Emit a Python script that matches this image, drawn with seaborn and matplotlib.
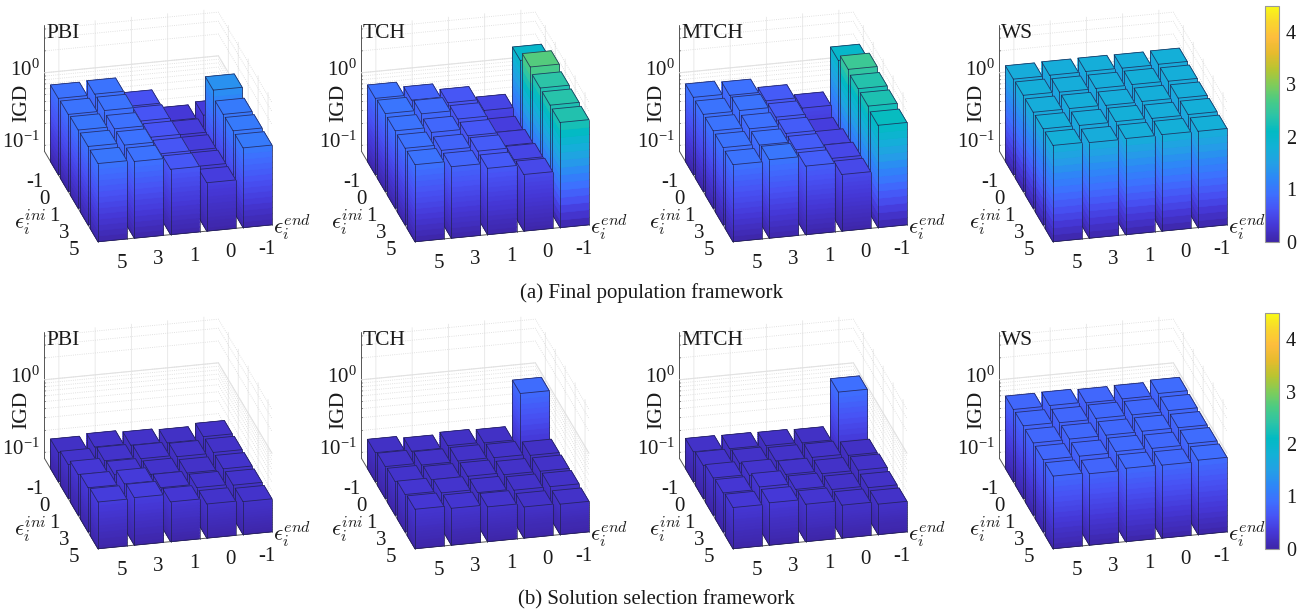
import numpy as np
import matplotlib
matplotlib.use('Agg')
import matplotlib.pyplot as plt
import seaborn as sns
from mpl_toolkits.mplot3d import proj3d

# Data: rows are eps_ini (-1, 0, 1, 3, 5), columns are eps_end (5, 3, 1, 0, -1)
ini_labels = ['-1', '0', '1', '3', '5']
end_labels = ['5', '3', '1', '0', '-1']
panel_names = ['PBI', 'TCH', 'MTCH', 'WS']
captions = ['(a) Final population framework', '(b) Solution selection framework']

pbi_a = [[.934, .955, .585, .325, .35],
         [.955, .966, .62, .355, 1.32],
         [.99, .92, .63, .365, 1.04],
         [1.0, .934, .635, .38, 1.05],
         [.99, .945, .66, .385, 1.04]]
tch_a = [[.934, .79, .65, .455, 1.99],
         [.98, .87, .66, .385, 2.75],
         [.966, .82, .66, .43, 2.4],
         [.945, .79, .69, .47, 2.37],
         [.955, .80, .68, .50, 2.33]]
mtch_a = [[.965, .92, .69, .49, 1.99],
          [.955, .966, .70, .37, 2.55],
          [.965, .92, .71, .44, 2.35],
          [.965, .934, .72, .49, 2.3],
          [.955, 1.0, .73, .50, 2.13]]
ws_a = [[1.72, 1.74, 1.75, 1.74, 1.76],
        [1.75, 1.73, 1.74, 1.76, 1.75],
        [1.74, 1.75, 1.73, 1.75, 1.74],
        [1.75, 1.74, 1.76, 1.74, 1.76],
        [1.76, 1.72, 1.75, 1.77, 1.76]]
pbi_b = [[.21, .223, .211, .203, .221],
         [.242, .245, .234, .223, .228],
         [.30, .267, .242, .226, .231],
         [.337, .34, .27, .242, .234],
         [.365, .375, .293, .245, .236]]
tch_b = [[.208, .195, .208, .203, .87],
         [.228, .214, .218, .216, .208],
         [.24, .228, .228, .214, .214],
         [.272, .256, .231, .223, .223],
         [.29, .267, .25, .223, .218]]
mtch_b = [[.214, .211, .208, .203, .91],
          [.236, .226, .218, .218, .208],
          [.27, .262, .242, .221, .221],
          [.286, .309, .256, .228, .216],
          [.306, .318, .272, .236, .218]]
ws_b = [[.82, .83, .81, .82, .87],
        [.83, .82, .84, .84, .86],
        [.82, .83, .84, .85, .85],
        [.82, .82, .85, .84, .87],
        [.83, .80, .85, .84, .88]]
rows_data = [[pbi_a, tch_a, mtch_a, ws_a], [pbi_b, tch_b, mtch_b, ws_b]]

parula_colors = [(.2422, .1504, .6603), (.2706, .2147, .8364), (.2810, .3228, .9579),
                 (.2440, .4358, .9988), (.1786, .5289, .9682), (.1380, .6276, .8973),
                 (.0689, .6948, .8394), (.0067, .7312, .7660), (.1717, .7670, .6554),
                 (.2906, .7973, .5188), (.5044, .7993, .3480), (.7242, .7698, .1910),
                 (.9035, .7330, .1774), (.9956, .7434, .2371), (.9786, .8386, .1766),
                 (.9769, .9839, .0805)]

W, H = 1303, 613
VMAX = 4.5
Z_LOW, Z_HIGH = np.log10(0.083), np.log10(VMAX)
N_SEG = 14
TXT = '#1a1a1a'

sns.set_theme(style='white')
plt.rcParams['font.family'] = 'Liberation Serif'
plt.rcParams['mathtext.fontset'] = 'cm'
plt.rcParams['mathtext.default'] = 'it'
parula = sns.blend_palette(parula_colors, n_colors=256, as_cmap=True)

fig = plt.figure(figsize=(W / 100, H / 100), dpi=100)


def px_text(x, y, s, **kw):
    return fig.text(x / W, 1 - y / H, s, color=TXT, **kw)


def to_px(ax, x, y, z):
    xp, yp, _ = proj3d.proj_transform(x, y, z, ax.get_proj())
    return ax.transData.transform((xp, yp))


def data_text(ax, x, y, z, s, dx=0, dy=0, **kw):
    # label placed from data coordinates, dx and dy in pixels
    p = to_px(ax, x, y, z)
    return fig.text((p[0] + dx) / W, (p[1] + dy) / H, s, color=TXT, **kw)


def place_axes(ax, left_px, right_px, base_px):
    # fit the axes so the front floor edge falls on the wanted pixels
    s0 = 400
    ax.set_position([0, 0, s0 / W, s0 / H])
    ax.apply_aspect()
    a = to_px(ax, -0.4, -0.4, Z_LOW)
    b = to_px(ax, 4.4, -0.4, Z_LOW)
    k = (right_px - left_px) / (b[0] - a[0])
    ax.set_position([(left_px - k * a[0]) / W, (H - base_px - k * a[1]) / H, k * s0 / W, k * s0 / H])
    ax.apply_aspect()


def draw_bars(ax, values):
    order = 0
    for i in range(5):  # back row first
        y = 4 - i - 0.4
        for c in range(4, -1, -1):
            x = c - 0.4
            v = values[i][c]
            top = np.log10(v)
            h = (top - Z_LOW) / N_SEG
            for s in range(N_SEG):
                col = parula((s + 0.5) / N_SEG * v / VMAX)
                cols = [col] * 6
                if s == N_SEG - 1:
                    cols[1] = parula(v / VMAX)
                ax.bar3d(x, y, Z_LOW + s * h, 0.8, 0.8, h, color=cols, shade=False,
                         edgecolor=col, linewidth=0.3, zorder=order)
                order += 1
            # visible edges of the box
            ec = '#20204a'
            xs = [x, x + 0.8, x + 0.8, x, x]
            ys = [y, y, y + 0.8, y + 0.8, y]
            ax.plot(xs, ys, [top] * 5, color=ec, lw=0.6, alpha=0.8, zorder=order)
            ax.plot([x, x + 0.8], [y, y], [Z_LOW, Z_LOW], color=ec, lw=0.6, alpha=0.8, zorder=order)
            ax.plot([x, x], [y, y + 0.8], [Z_LOW, Z_LOW], color=ec, lw=0.6, alpha=0.8, zorder=order)
            for xv, yv in [(x, y), (x + 0.8, y), (x, y + 0.8)]:
                ax.plot([xv, xv], [yv, yv], [Z_LOW, top], color=ec, lw=0.6, alpha=0.8, zorder=order)
            order += 1


z_ticks = [np.log10(t) for t in [.1, .2, .3, .4, .5, .6, .7, .8, .9, 1, 2, 3, 4]]
lefts = [98, 415, 733, 1053]
bases = [241.7, 548.7]

for row in range(2):
    for col in range(4):
        ax = fig.add_subplot(projection='3d', computed_zorder=False, proj_type='ortho')
        ax.view_init(elev=23.9, azim=-103.5)
        ax.set_box_aspect((180, 231, 138.5))
        ax.set_xlim(-0.4, 4.4)
        ax.set_ylim(-0.4, 5.0)
        ax.set_zlim(Z_LOW, Z_HIGH)
        ax.set_facecolor('none')
        place_axes(ax, lefts[col], lefts[col] + 174, bases[row])

        ax.set_xticks(range(5))
        ax.set_yticks(range(5))
        ax.set_zticks(z_ticks)
        ax.set_xticklabels([])
        ax.set_yticklabels([])
        ax.set_zticklabels([])
        for axis in [ax.xaxis, ax.yaxis, ax.zaxis]:
            axis.set_pane_color((1, 1, 1, 0))
            axis.pane.set_edgecolor((1, 1, 1, 0))
            axis.line.set_color('#555555')
            axis.line.set_linewidth(0.7)
            axis._axinfo['grid'].update(color='#e6e6e6', linewidth=0.6)
            axis._axinfo['tick'].update(inward_factor=0, outward_factor=0.08, linewidth={True: 0.6, False: 0.6})
        ax.zaxis._axinfo['grid'].update(color='#d8d8d8', linestyle=':', linewidth=0.6)
        ax.tick_params(colors='#555555')

        # solid line at the decade on both walls
        ax.plot([-0.4, 4.4, 4.4], [5.0, 5.0, -0.4], [0, 0, 0], color='#e2e2e2', lw=0.8, zorder=-1)

        draw_bars(ax, rows_data[row][col])

        # tick labels
        for c, lab in enumerate(end_labels):
            data_text(ax, c, -1.72, Z_LOW, lab, dx=-3.5, dy=-1, fontsize=15, ha='center', va='center')
        for i, lab in enumerate(ini_labels):
            data_text(ax, -0.95, 4 - i, Z_LOW - 0.18, lab, fontsize=15, ha='center', va='center')
        data_text(ax, -0.4, 5.0, 0, r'$\mathregular{10^{0}}$', dx=-5, dy=3, fontsize=15, ha='right', va='center')
        data_text(ax, -0.4, 5.0, -1, r'$\mathregular{10^{-1}}$', dx=-5, dy=3, fontsize=15, ha='right', va='center')

        x0, y0 = lefts[col], bases[row]
        px_text(x0 - 52, y0 - 208.7, panel_names[col], fontsize=15.5, ha='left', va='center')
        px_text(x0 - 76, y0 - 138.7, 'IGD', fontsize=15.5, rotation=90, ha='center', va='center')
        px_text(x0 - 68, y0 - 20, r'$\epsilon_i^{ini}$', fontsize=16.5, ha='center', va='center')
        px_text(x0 + 194, y0 - 15, r'$\epsilon_i^{end}$', fontsize=16.5, ha='center', va='center')

# colorbars
norm = plt.Normalize(0, VMAX)
for top_px, bot_px in [(5.7, 241.7), (313, 548.7)]:
    cax = fig.add_axes([1265 / W, 1 - bot_px / H, 14 / W, (bot_px - top_px) / H])
    sm = plt.cm.ScalarMappable(norm=norm, cmap=parula)
    cb = fig.colorbar(sm, cax=cax, ticks=[0, 1, 2, 3, 4])
    cb.ax.tick_params(length=0, pad=5, labelsize=14.5, labelcolor=TXT)
    cb.outline.set_edgecolor('#999999')
    cb.outline.set_linewidth(0.8)

px_text(652, 293, captions[0], fontsize=15, ha='center', va='center')
px_text(656, 600, captions[1], fontsize=15, ha='center', va='center')

fig.savefig('out.png', dpi=100)
